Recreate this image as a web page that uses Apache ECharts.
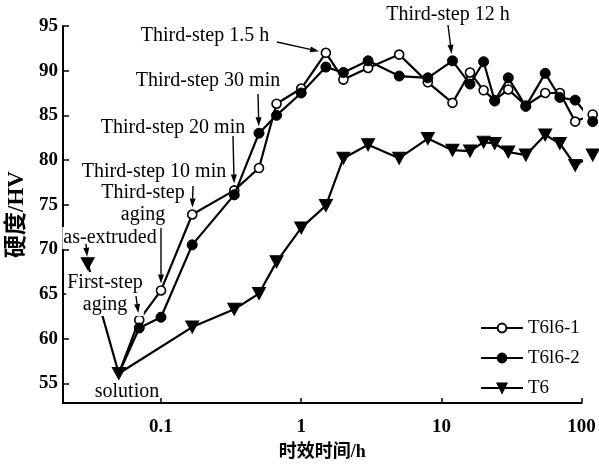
<!DOCTYPE html>
<html>
<head>
<meta charset="utf-8">
<script src="https://cdn.jsdelivr.net/npm/echarts@6/dist/echarts.min.js"></script>
<style>
html,body{margin:0;padding:0;background:#fff;}
#c{width:599px;height:465px;}
</style>
</head>
<body>
<div id="c"></div>
<script>
// ---- data ----
const timesT6l6 = [0.05, 0.07, 0.1, 0.167, 0.333, 0.5, 0.667, 1, 1.5, 2, 3, 5, 8, 12, 16, 20, 24, 30, 40, 55, 70, 90, 120];
const hvT6l6_1 = [56.1, 62.1, 65.4, 73.9, 76.6, 79.1, 86.3, 88.0, 92.0, 89.0, 90.3, 91.8, 88.7, 86.4, 89.8, 87.8, 86.7, 87.9, 86.1, 87.5, 87.5, 84.3, 85.1];
const hvT6l6_2 = [56.1, 61.2, 62.4, 70.5, 76.1, 83.0, 85.0, 87.5, 90.4, 89.8, 91.1, 89.4, 89.2, 91.1, 88.5, 91.0, 86.6, 89.2, 86.0, 89.7, 87.0, 86.7, 84.3];
const timesT6 = [0.03, 0.05, 0.167, 0.333, 0.5, 0.667, 1, 1.5, 2, 3, 5, 8, 12, 16, 20, 24, 30, 40, 55, 70, 90, 120];
const hvT6 = [68.4, 56.1, 61.3, 63.3, 65.05, 68.6, 72.4, 74.9, 80.2, 81.7, 80.2, 82.4, 81.1, 81.0, 82.0, 81.85, 80.9, 80.55, 82.8, 81.85, 79.4, 80.55];
const xTicks = [0.1, 1, 10, 100];
const yTicks = [55, 60, 65, 70, 75, 80, 85, 90, 95];
const seriesNames = ['T6l6-1', 'T6l6-2', 'T6'];
const xName = '时效时间/h';
const yName = '硬度/HV';

// annotations: text, target data point, text centre (px), arrow start (px), white background
const annotations = [
  {text: 'Third-step 1.5 h', target: [1.5, 92.0], pos: [205, 36], from: [277, 42]},
  {text: 'Third-step 12 h', target: [12, 91.1], pos: [448, 15], from: [448, 25]},
  {text: 'Third-step 30 min', target: [0.5, 83.0], pos: [208, 81], from: [258, 94]},
  {text: 'Third-step 20 min', target: [0.333, 76.6], pos: [173, 128], from: [233, 136]},
  {text: 'Third-step 10 min', target: [0.167, 73.9], pos: [154, 172], from: [193, 186]},
  {text: 'Third-step\naging', target: [0.1, 65.4], pos: [143, 204], from: [161, 228]},
  {text: 'as-extruded', target: [0.03, 68.4], pos: [110, 238], from: [86, 244], bg: true},
  {text: 'First-step\naging', target: [0.07, 62.1], pos: [105, 294], from: [136, 296], bg: true},
  {text: 'solution', target: null, pos: [127, 392]}
];

const FONT = '"Liberation Serif", "Noto Sans CJK SC", serif';

const pair = (xs, ys) => xs.map((x, i) => [x, ys[i]]);
const d1 = pair(timesT6l6, hvT6l6_1).map((p, i) => i === 0 ? {value: p, symbol: 'none'} : p);
const d2 = pair(timesT6l6, hvT6l6_2).map((p, i) => i === 0 ? {value: p, symbol: 'none'} : p);
const d3 = pair(timesT6, hvT6);

const chart = echarts.init(document.getElementById('c'), null, {renderer: 'canvas'});
const option = {
  animation: false,
  backgroundColor: '#fff',
  grid: {left: 63, right: 17.4, top: 26, bottom: 62, containLabel: false, outerBoundsMode: 'none'},
  legend: {
    orient: 'vertical', left: 480, top: 318, padding: 0, itemWidth: 42, itemHeight: 11, itemGap: 10,
    data: seriesNames,
    textStyle: {fontFamily: FONT, fontSize: 19, color: '#000', lineHeight: 20},
    inactiveColor: '#000'
  },
  xAxis: {
    type: 'log', logBase: 10, min: 0.02, max: 100,
    name: xName, nameLocation: 'middle', nameGap: 40,
    nameTextStyle: {fontFamily: FONT, fontSize: 18, color: '#000', fontWeight: 'bold'},
    axisLine: {show: true, lineStyle: {color: '#000', width: 2}},
    axisTick: {show: true, inside: true, length: 5, lineStyle: {color: '#000', width: 1.5}, customValues: xTicks},
    minorTick: {show: false},
    axisLabel: {customValues: xTicks, fontFamily: FONT, fontSize: 19, fontWeight: 'bold', color: '#000', margin: 15,
      formatter: v => String(v)},
    splitLine: {show: false}, minorSplitLine: {show: false}
  },
  yAxis: {
    type: 'value', min: 52.8, max: 95,
    name: yName, nameLocation: 'middle', nameGap: 27, nameRotate: 90,
    nameTextStyle: {fontFamily: FONT, fontSize: 23, color: '#000', fontWeight: 'bold'},
    axisLine: {show: true, lineStyle: {color: '#000', width: 2}},
    axisTick: {show: true, inside: true, length: 6, lineStyle: {color: '#000', width: 1.5}, customValues: yTicks},
    axisLabel: {customValues: yTicks, fontFamily: FONT, fontSize: 19, fontWeight: 'bold', color: '#000', margin: 5},
    splitLine: {show: false}
  },
  series: [
    {name: seriesNames[0], type: 'line', data: d1, clip: false, symbol: 'circle', symbolSize: 9,
      lineStyle: {color: '#000', width: 2.2}, itemStyle: {color: '#fff', borderColor: '#000', borderWidth: 1.6},
      emphasis: {disabled: true}, z: 2},
    {name: seriesNames[1], type: 'line', data: d2, clip: false, symbol: 'circle', symbolSize: 10,
      lineStyle: {color: '#000', width: 2.2}, itemStyle: {color: '#000', borderColor: '#000', borderWidth: 1},
      emphasis: {disabled: true}, z: 3},
    {name: seriesNames[2], type: 'line', data: d3, clip: false, symbol: 'triangle', symbolRotate: 180, symbolSize: [13, 12],
      lineStyle: {color: '#000', width: 2.2}, itemStyle: {color: '#000', borderColor: '#000', borderWidth: 1},
      emphasis: {disabled: true}, z: 4}
  ]
};
chart.setOption(option);

// build annotations anchored to data points
const graphics = [];
annotations.forEach(a => {
  graphics.push({
    type: 'text', x: a.pos[0], y: a.pos[1], z: 10,
    style: {
      text: a.text, font: '20px ' + FONT, fill: '#000', align: 'center', verticalAlign: 'middle',
      lineHeight: 22, backgroundColor: a.bg ? '#fff' : null, padding: a.bg ? [0, 1] : 0
    }
  });
  if (a.target) {
    const p = chart.convertToPixel({gridIndex: 0}, a.target);
    const dx = p[0] - a.from[0], dy = p[1] - a.from[1];
    const len = Math.sqrt(dx * dx + dy * dy);
    const ux = dx / len, uy = dy / len;
    const gap = 7;
    const tip = [p[0] - ux * gap, p[1] - uy * gap];
    const headL = 9, headW = 3;
    const base = [tip[0] - ux * headL, tip[1] - uy * headL];
    graphics.push({
      type: 'line', z: 11,
      shape: {x1: a.from[0], y1: a.from[1], x2: base[0], y2: base[1]},
      style: {stroke: '#000', lineWidth: 1.4}
    });
    graphics.push({
      type: 'polygon', z: 11,
      shape: {points: [tip, [base[0] - uy * headW, base[1] + ux * headW], [base[0] + uy * headW, base[1] - ux * headW]]},
      style: {fill: '#000'}
    });
  }
});
chart.setOption({graphic: graphics});
</script>
</body>
</html>
